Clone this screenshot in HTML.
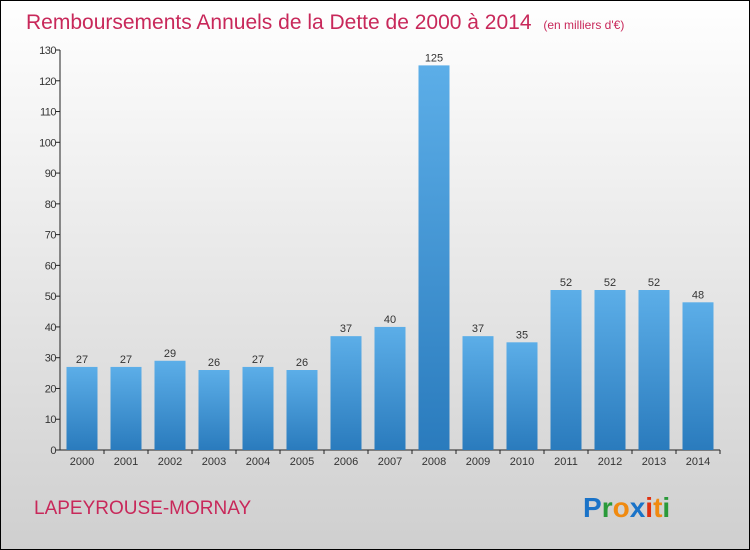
<!DOCTYPE html>
<html><head><meta charset="utf-8"><style>
body{margin:0}
#c{width:750px;height:550px;position:relative;overflow:hidden}
</style></head><body>
<div id="c">
<svg id="s" width="750" height="550" xmlns="http://www.w3.org/2000/svg" font-family="Liberation Sans, sans-serif">
<defs>
<linearGradient id="bg" x1="0" y1="0" x2="0" y2="1"><stop offset="0" stop-color="#ffffff"/><stop offset="1" stop-color="#cfcfcf"/></linearGradient>
<linearGradient id="bar" x1="0" y1="0" x2="0" y2="1"><stop offset="0" stop-color="#5caee8"/><stop offset="1" stop-color="#2a7bbd"/></linearGradient>
</defs>
<rect x="0.5" y="0.5" width="749" height="549" fill="url(#bg)" stroke="#000"/>
<text x="26" y="29" font-size="21" fill="#c8285a">Remboursements Annuels de la Dette de 2000 à 2014 <tspan font-size="12" dx="6">(en milliers d'€)</tspan></text>
<text x="34" y="514" font-size="19" fill="#c8285a">LAPEYROUSE-MORNAY</text>
<g font-size="28" font-weight="bold">
<text x="583" y="517"><tspan fill="#1a73c8">P</tspan><tspan fill="#2a9a3a">r</tspan><tspan fill="#f08a10">o</tspan><tspan fill="#1a73c8">x</tspan><tspan fill="#e03010">i</tspan><tspan fill="#f08a10">t</tspan><tspan fill="#2a9a3a">i</tspan></text>
</g>
<g id="axes"></g>
<g id="bars"></g>
</svg>
</div>
<script>
const years=["2000","2001","2002","2003","2004","2005","2006","2007","2008","2009","2010","2011","2012","2013","2014"];
const values=[27,27,29,26,27,26,37,40,125,37,35,52,52,52,48];
const yTicks=[0,10,20,30,40,50,60,70,80,90,100,110,120,130];
const NS="http://www.w3.org/2000/svg";
const x0=60,y0=450,yTop=50,yMax=130,step=44,bw=31,first=82;
const y=v=>y0-(v/yMax)*(y0-yTop);
const xc=i=>first+i*step;
function mk(t,a,p){const e=document.createElementNS(NS,t);for(const k in a)e.setAttribute(k,a[k]);p.appendChild(e);return e;}
const ax=document.getElementById('axes'),bg=document.getElementById('bars');
const yl=mk('line',{x1:x0,y1:yTop,x2:x0,y2:y0,stroke:'#222'},ax);


const xl=mk('line',{x1:x0,y1:y0,x2:720,y2:y0,stroke:'#222'},ax);


yTicks.forEach(v=>{
 mk('line',{x1:x0-4,y1:y(v),x2:x0,y2:y(v),stroke:'#222'},ax);
 const t=mk('text',{x:x0-4,y:y(v)+4,'text-anchor':'end','font-size':11,fill:'#333','letter-spacing':'-0.5'},ax);
 t.textContent=v;
 
 
});
years.forEach((yr,i)=>{
 const r=mk('rect',{x:xc(i)-bw/2,y:y(values[i]),width:bw,height:y0-y(values[i]),fill:'url(#bar)'},bg);
 
 
 const l=mk('text',{x:xc(i),y:y(values[i])-4,'text-anchor':'middle','font-size':11,fill:'#333'},bg);
 l.textContent=values[i];
 
 
 mk('line',{x1:xc(i)+step/2,y1:y0,x2:xc(i)+step/2,y2:y0+4,stroke:'#222'},ax);
 const t=mk('text',{x:xc(i),y:y0+15,'text-anchor':'middle','font-size':11,fill:'#333'},ax);
 t.textContent=yr;
 
 
});
</script>
</body></html>
